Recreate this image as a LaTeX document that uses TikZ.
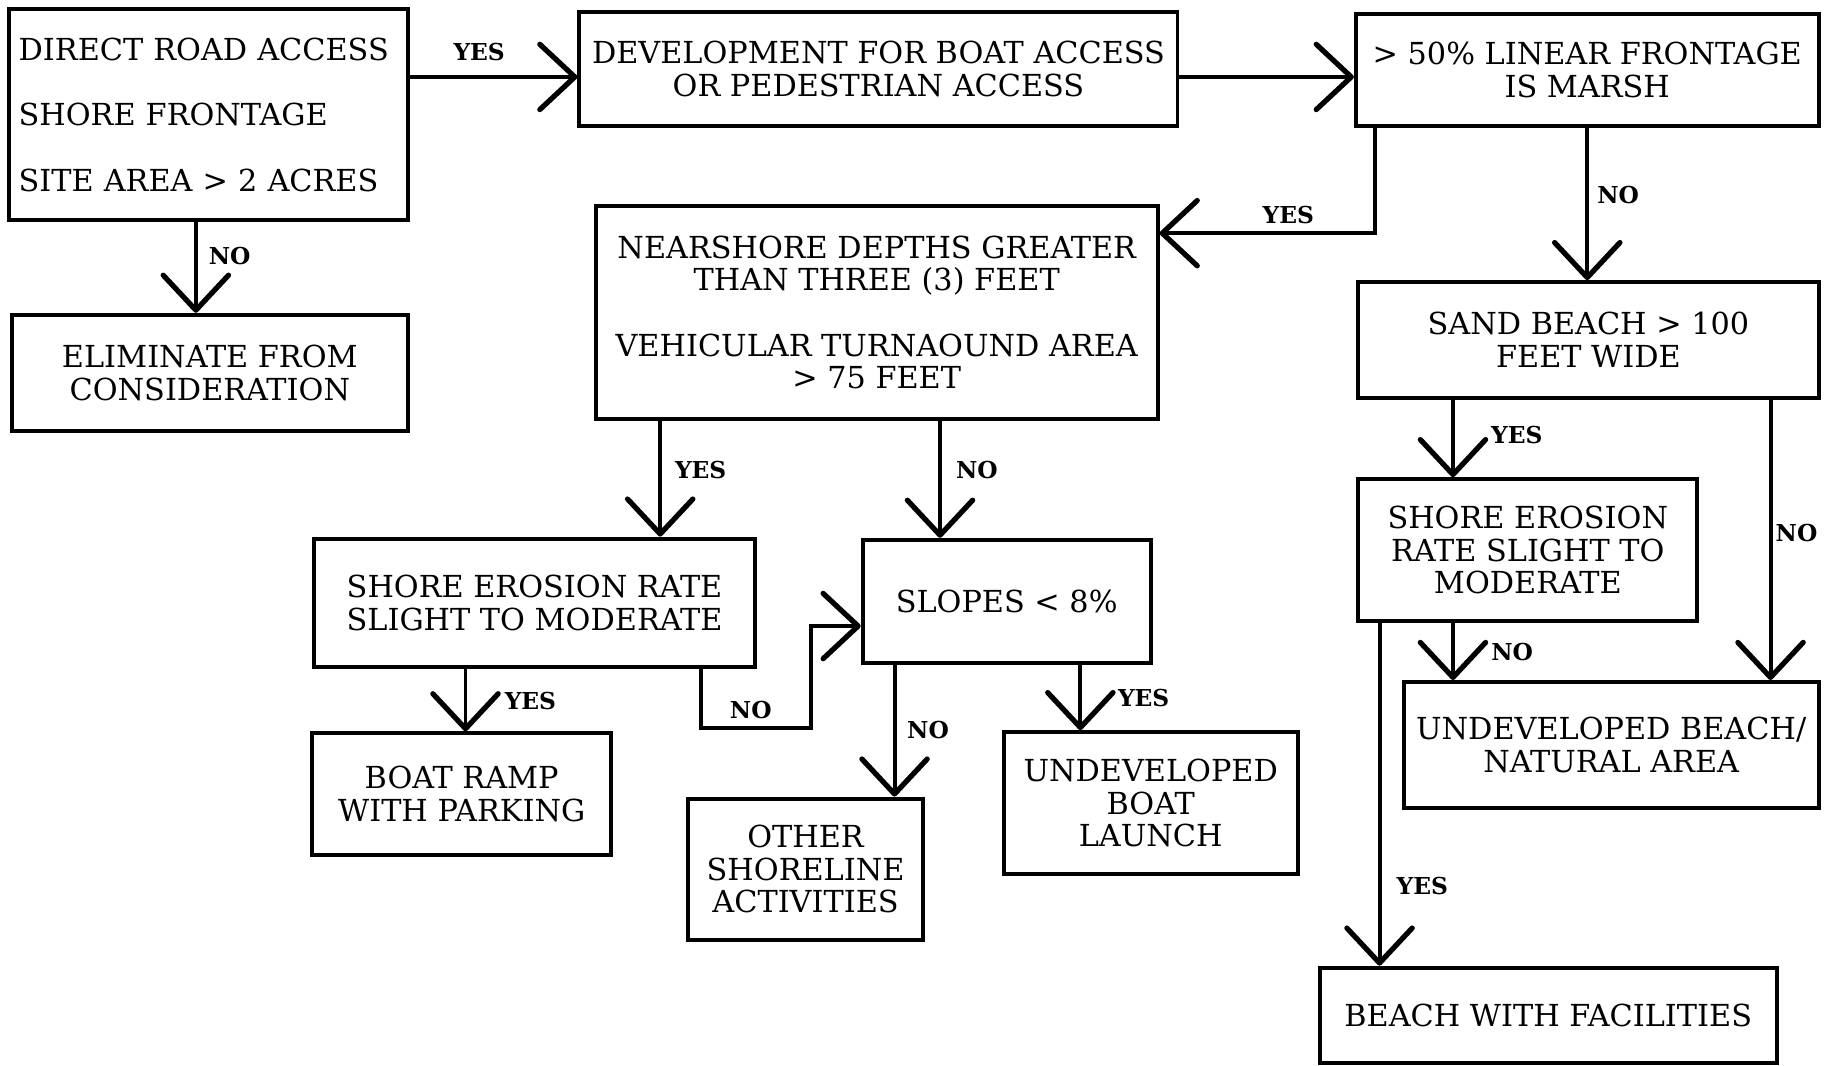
\documentclass[tikz,border=0pt]{standalone}
\usepackage{fontspec}
\setmainfont{DejaVu Serif}
\usetikzlibrary{arrows.meta}

\begin{document}
\begin{tikzpicture}[x=1pt, y=-1pt, font=\fontsize{26}{28}\selectfont]

\tikzset{
  box/.style    = {draw, line width=3.4pt, align=center, inner sep=0pt},
  flow/.style   = {line width=3.4pt, -{Straight Barb[length=30pt, width=56pt, line width=4.5pt, round]}},
  answer/.style = {font=\fontsize{20}{21}\selectfont\bfseries, inner sep=0pt},
}

\useasboundingbox (0,0) rectangle (1568,914);

%% ---------- top row ----------
\node[box, minimum width=342pt, minimum height=181pt, align=left, text width=326pt] (access) at (179,98.5)
  {DIRECT ROAD ACCESS\\[28pt]SHORE FRONTAGE\\[28pt]SITE AREA > 2 ACRES};
\node[box, minimum width=340pt, minimum height=100pt] (elim) at (180,320) {ELIMINATE FROM\\CONSIDERATION};
\node[box, minimum width=513pt, minimum height=98pt] (dev) at (753.5,59) {DEVELOPMENT FOR BOAT ACCESS\\OR PEDESTRIAN ACCESS};
\node[box, minimum width=397pt, minimum height=96pt] (marsh) at (1361.5,60) {> 50\% LINEAR FRONTAGE\\IS MARSH};

%% ---------- boat side ----------
\node[box, minimum width=482pt, minimum height=182pt] (near) at (752,268)
  {NEARSHORE DEPTHS GREATER\\THAN THREE (3) FEET\\[28pt]VEHICULAR TURNAOUND AREA\\> 75 FEET};
\node[box, minimum width=379pt, minimum height=110pt] (erosL) at (458.5,517) {SHORE EROSION RATE\\SLIGHT TO MODERATE};
\node[box, minimum width=247pt, minimum height=106pt] (slopes) at (863.5,516) {SLOPES < 8\%};
\node[box, minimum width=256pt, minimum height=104pt] (ramp) at (396,681) {BOAT RAMP\\WITH PARKING};
\node[box, minimum width=202pt, minimum height=121pt] (other) at (691,745.5) {OTHER\\SHORELINE\\ACTIVITIES};
\node[box, minimum width=252pt, minimum height=122pt] (launch) at (987,689) {UNDEVELOPED\\BOAT\\LAUNCH};

%% ---------- beach side ----------
\node[box, minimum width=395pt, minimum height=99pt] (sand) at (1362.5,291.5) {SAND BEACH > 100\\FEET WIDE};
\node[box, minimum width=291pt, minimum height=122pt] (erosR) at (1310.5,472) {SHORE EROSION\\RATE SLIGHT TO\\MODERATE};
\node[box, minimum width=356pt, minimum height=108pt] (natural) at (1382,639) {UNDEVELOPED BEACH/\\NATURAL AREA};
\node[box, minimum width=392pt, minimum height=82pt] (facil) at (1328,871) {BEACH WITH FACILITIES};

%% ---------- where the lines leave and land ----------
\coordinate (devin)     at ([yshift=-7pt]dev.west);
\coordinate (marshin)   at ([yshift=-6pt]marsh.west);
\coordinate (elimin)    at ([xshift=-12pt]elim.north);
\coordinate (marshyes)  at ([xshift=18pt]marsh.south west);
\coordinate (nearin)    at ([yshift=68pt]near.east);
\coordinate (nearyes)   at ([xshift=57pt]near.south west);
\coordinate (nearno)    at ([xshift=297pt]near.south west);
\coordinate (erosLyes)  at ([xshift=132pt]erosL.south west);
\coordinate (erosLno)   at ([xshift=-48pt]erosL.south east);
\coordinate (erosLbend) at ([xshift=46pt, yshift=-51pt]erosL.south east);
\coordinate (slopesin)  at ([yshift=-21pt]slopes.west);
\coordinate (slopesno)  at ([xshift=29pt]slopes.south west);
\coordinate (slopesyes) at ([xshift=-62pt]slopes.south east);
\coordinate (sandyes)   at ([xshift=83pt]sand.south west);
\coordinate (sandno)    at ([xshift=-43pt]sand.south east);
\coordinate (erosRno)   at ([xshift=83pt]erosR.south west);
\coordinate (erosRyes)  at ([xshift=20pt]erosR.south west);

%% ---------- connectors ----------
\draw[flow] (access.east |- devin) -- (devin);
\draw[flow] (dev.east |- marshin) -- (marshin);
\draw[flow] (access.south -| elimin) -- (elimin);
\draw[flow] (marsh.south) -- (marsh.south |- sand.north);
\draw[flow] (marshyes) |- (nearin);
\draw[flow] (nearyes) -- (nearyes |- erosL.north);
\draw[flow] (nearno) -- (nearno |- slopes.north);
\draw[flow] (erosLyes) -- (erosLyes |- ramp.north);
\draw[flow] (erosLno) |- (erosLbend) |- (slopesin);
\draw[flow] (slopesno) -- (slopesno |- other.north);
\draw[flow] (slopesyes) -- (slopesyes |- launch.north);
\draw[flow] (sandyes) -- (sandyes |- erosR.north);
\draw[flow] (sandno) -- (sandno |- natural.north);
\draw[flow] (erosRno) -- (erosRno |- natural.north);
\draw[flow] (erosRyes) -- (erosRyes |- facil.north);

%% ---------- answers ----------
\node[answer] (accessyes) at (411,45)   {YES};
\node[answer] (accessno)  at (197,220)  {NO};
\node[answer] (marshyesl) at (1105,184) {YES};
\node[answer] (marshnol)  at (1388,167) {NO};
\node[answer] (nearyesl)  at (601,403)  {YES};
\node[answer] (nearnol)   at (838,403)  {NO};
\node[answer] (erosLyesl) at (455,601)  {YES};
\node[answer] (erosLnol)  at (644,609)  {NO};
\node[answer] (slopesnol) at (796,626)  {NO};
\node[answer] (slopesyesl) at (981,599) {YES};
\node[answer] (sandyesl)  at (1301,373) {YES};
\node[answer] (sandnol)   at (1541,457) {NO};
\node[answer] (erosRnol)  at (1297,559) {NO};
\node[answer] (erosRyesl) at (1220,760) {YES};

\end{tikzpicture}
\end{document}
